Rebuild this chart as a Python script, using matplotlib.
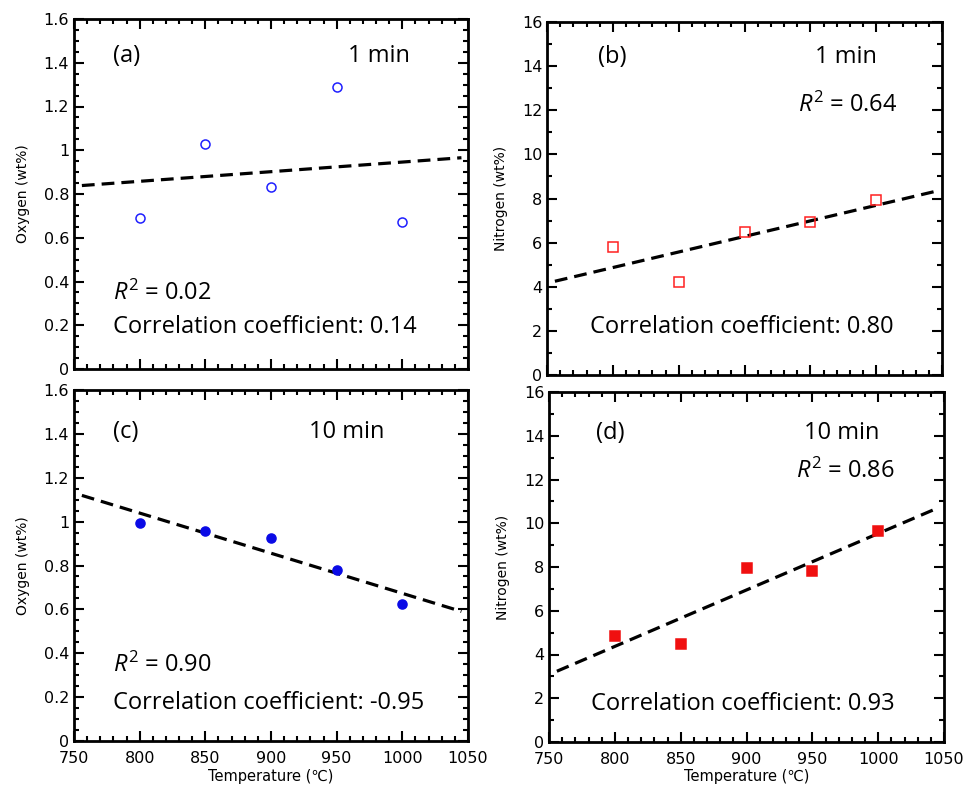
import numpy as np
import matplotlib
matplotlib.use("Agg")
import matplotlib.pyplot as plt
from matplotlib.ticker import MultipleLocator, FuncFormatter

plt.rcParams["mathtext.fontset"] = "custom"
plt.rcParams["mathtext.rm"] = "Open Sans"
plt.rcParams["mathtext.it"] = "Open Sans:italic"

temps = [800, 850, 900, 950, 1000]
oxygen_1min = [0.69, 1.03, 0.83, 1.29, 0.67]
nitrogen_1min = [5.8, 4.2, 6.5, 6.95, 7.95]
oxygen_10min = [0.995, 0.955, 0.925, 0.78, 0.625]
nitrogen_10min = [4.85, 4.5, 7.95, 7.8, 9.65]

panel_labels = ["(a)", "(b)", "(c)", "(d)"]
time_labels = ["1 min", "1 min", "10 min", "10 min"]
r2_texts = ["0.02", "0.64", "0.90", "0.86"]
corr_texts = ["0.14", "0.80", "-0.95", "0.93"]

fig = plt.figure(figsize=(9.65, 7.87), dpi=100)
W, H = 965, 787

def add_ax(l, t, r, b):
    return fig.add_axes([l / W, 1 - b / H, (r - l) / W, (b - t) / H])

axes = [
    add_ax(74, 19, 468, 369),
    add_ax(547, 22, 942, 375),
    add_ax(74, 390, 468, 741),
    add_ax(549, 392, 944, 742),
]

series = [oxygen_1min, nitrogen_1min, oxygen_10min, nitrogen_10min]
colors = ["#1f1fff", "#ff2020", "#0a0ae6", "#f01010"]
markers = ["o", "s", "o", "s"]
filled = [False, False, True, True]
ylabels = ["Oxygen (wt%)", "Nitrogen (wt%)", "Oxygen (wt%)", "Nitrogen (wt%)"]
ymax = [1.6, 16, 1.6, 16]

ann_font = "Open Sans"
FS = 17

for i, ax in enumerate(axes):
    y = series[i]
    mfc = colors[i] if filled[i] else "none"
    ms = 6.5 if markers[i] == "o" else 7
    ax.plot(temps, y, linestyle="none", marker=markers[i], ms=ms,
            mfc=mfc, mec=colors[i], mew=1.1, zorder=3)
    k, c = np.polyfit(temps, y, 1)
    xf = np.array([756, 1045])
    ax.plot(xf, k * xf + c, color="black", lw=2.3, ls=(0, (4, 2.2)), zorder=2)

    ax.set_xlim(750, 1050)
    ax.set_ylim(0, ymax[i])
    ax.xaxis.set_major_locator(MultipleLocator(50))
    ax.xaxis.set_minor_locator(MultipleLocator(10))
    if ymax[i] == 1.6:
        ax.yaxis.set_major_locator(MultipleLocator(0.2))
        ax.yaxis.set_minor_locator(MultipleLocator(0.05))
        ax.yaxis.set_major_formatter(FuncFormatter(
            lambda v, p: ("%g" % round(v, 2))))
    else:
        ax.yaxis.set_major_locator(MultipleLocator(2))
        ax.yaxis.set_minor_locator(MultipleLocator(1))
    ax.tick_params(which="both", direction="in", top=True, right=True,
                   labelsize=11.5, width=1.5)
    ax.tick_params(which="major", length=7)
    ax.tick_params(which="minor", length=3.5)
    ax.tick_params(axis="x", pad=7)
    for s in ax.spines.values():
        s.set_linewidth(2)
    ax.set_ylabel(ylabels[i], fontsize=10, labelpad=10)
    if i < 2:
        ax.tick_params(labelbottom=False)
    else:
        ax.set_xlabel("Temperature (\u2103)", fontsize=10.5, labelpad=2)

def txt(ax, x, y, s, ha):
    ax.text(x, y, s, transform=ax.transAxes, fontsize=FS, family=ann_font,
            va="center", ha=ha)

txt(axes[0], 0.10, 0.895, panel_labels[0], "left")
txt(axes[0], 0.775, 0.895, time_labels[0], "center")
txt(axes[0], 0.10, 0.215, "$R^2$ = " + r2_texts[0], "left")
txt(axes[0], 0.10, 0.12, "Correlation coefficient: " + corr_texts[0], "left")

txt(axes[1], 0.13, 0.90, panel_labels[1], "left")
txt(axes[1], 0.757, 0.90, time_labels[1], "center")
txt(axes[1], 0.76, 0.765, "$R^2$ = " + r2_texts[1], "center")
txt(axes[1], 0.494, 0.136, "Correlation coefficient: " + corr_texts[1], "center")

txt(axes[2], 0.10, 0.88, panel_labels[2], "left")
txt(axes[2], 0.693, 0.88, time_labels[2], "center")
txt(axes[2], 0.10, 0.217, "$R^2$ = " + r2_texts[2], "left")
txt(axes[2], 0.10, 0.108, "Correlation coefficient: " + corr_texts[2], "left")

txt(axes[3], 0.12, 0.883, panel_labels[3], "left")
txt(axes[3], 0.74, 0.883, time_labels[3], "center")
txt(axes[3], 0.75, 0.774, "$R^2$ = " + r2_texts[3], "center")
txt(axes[3], 0.49, 0.109, "Correlation coefficient: " + corr_texts[3], "center")

fig.savefig("out.png", dpi=100)
